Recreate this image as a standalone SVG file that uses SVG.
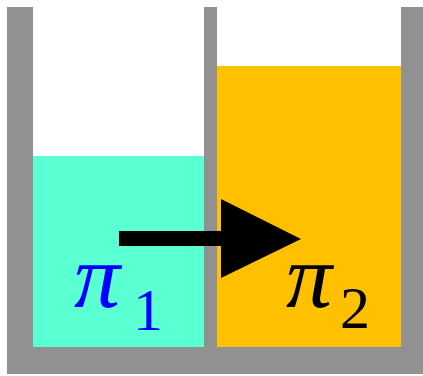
<svg xmlns="http://www.w3.org/2000/svg" width="423" height="376" viewBox="0 0 423 376">
<style>
.wall{fill:#919191}
.lbl{font-family:"Liberation Serif","Times New Roman",serif}
.pi{font-style:italic;font-size:92px}
.sub{font-size:60px}
</style>
<rect width="423" height="376" fill="#ffffff"/>
<g id="liquid1"><rect x="33" y="156" width="171" height="191" fill="#5AFFD2"/></g>
<g id="liquid2"><rect x="217" y="66" width="184" height="281" fill="#FFC000"/></g>
<g id="walls">
<rect class="wall" x="7" y="7" width="26" height="340"/>
<rect class="wall" x="204" y="7" width="13" height="340"/>
<rect class="wall" x="401" y="7" width="22" height="340"/>
<rect class="wall" x="7" y="347" width="416" height="27"/>
</g>
<g id="connectors">
<rect x="119" y="231" width="104" height="15" fill="#000"/>
<polygon points="221,199 301,239 221,278" fill="#000"/>
</g>
<g id="pi1" class="lbl" fill="#0000FF">
<text class="pi" x="74" y="307">π</text>
<text class="sub" x="133" y="330">1</text>
</g>
<g id="pi2" class="lbl" fill="#000000">
<text class="pi" x="286" y="307">π</text>
<text class="sub" x="340" y="328">2</text>
</g>
</svg>
